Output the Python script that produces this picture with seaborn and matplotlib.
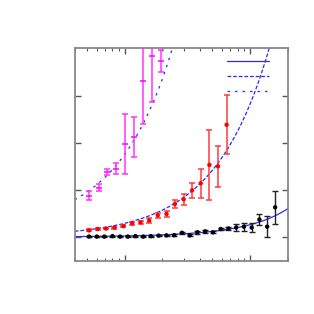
import numpy as np
import pandas as pd
import matplotlib
matplotlib.use('Agg')
import matplotlib.pyplot as plt
import seaborn as sns

# black series
black_x = [0.52, 0.60, 0.69, 0.80, 0.92, 1.06, 1.22, 1.41, 1.62, 1.87, 2.16, 2.49,
           2.87, 3.31, 3.81, 4.40, 5.07, 5.85, 6.74, 7.77, 8.96, 10.33, 11.91, 13.73, 15.90]
black_y = [1.01, 1.01, 1.01, 1.02, 1.01, 1.01, 1.02, 1.01, 1.02, 1.03, 1.035, 1.04,
           1.09, 1.035, 1.10, 1.12, 1.10, 1.17, 1.18, 1.20, 1.22, 1.20, 1.37, 1.22, 1.63]
black_err = [0.01, 0.01, 0.01, 0.01, 0.01, 0.01, 0.01, 0.01, 0.012, 0.012, 0.015, 0.015,
             0.02, 0.02, 0.03, 0.03, 0.025, 0.03, 0.03, 0.08, 0.085, 0.10, 0.12, 0.22, 0.35]

# red series
red_x = [0.52, 0.61, 0.71, 0.83, 0.98, 1.15, 1.34, 1.57, 1.84, 2.16, 2.52, 2.96,
         3.46, 4.05, 4.75, 5.56, 6.52]
red_y = [1.14, 1.17, 1.18, 1.20, 1.23, 1.29, 1.31, 1.35, 1.46, 1.49, 1.70, 1.80,
         1.99, 2.14, 2.53, 2.50, 3.38]
red_err = [0.02, 0.02, 0.02, 0.02, 0.02, 0.025, 0.025, 0.045, 0.05, 0.06, 0.08, 0.12,
           0.165, 0.31, 0.74, 0.43, 0.63]

# magenta series
mag_x = [0.523, 0.621, 0.724, 0.849, 1.00, 1.18, 1.39, 1.65, 1.95]
mag_y = [1.88, 2.05, 2.37, 2.45, 2.97, 3.12, 4.31, 4.84, 4.73]
mag_err = [0.10, 0.07, 0.065, 0.12, 0.64, 0.43, 0.92, 0.97, 0.24]

# fit curves: a + b*x + c*x^2
fit_solid = (1.0, 0.022, 0.0004)
fit_dashed = (1.01, 0.28, 0.0)
fit_dotted = (1.15, 1.6, 0.0)

sns.set_style('ticks')
fig = plt.figure(figsize=(3.14, 3.14), dpi=100)
ax = fig.add_axes([0.238, 0.170, 0.678, 0.676])

xs = np.geomspace(0.4, 20, 400)
curves = []
for name, p in [('solid', fit_solid), ('dashed', fit_dashed), ('dotted', fit_dotted)]:
    curves.append(pd.DataFrame({'x': xs, 'y': p[0] + p[1] * xs + p[2] * xs ** 2, 'fit': name}))
curves = pd.concat(curves)

blue = '#2a2aff'
lines = {}
for name, ls in [('solid', '-'), ('dashed', (0, (3, 1.5))), ('dotted', (0, (2, 4)))]:
    sns.lineplot(data=curves[curves.fit == name], x='x', y='y', ax=ax, color=blue,
                 lw=0.9, linestyle=ls, legend=False, zorder=1)
    lines[name] = ax.lines[-1]

ax.errorbar(black_x, black_y, yerr=black_err, fmt='none', ecolor='#222222',
            elinewidth=1.0, capsize=2.5, capthick=1.0, zorder=3)
ax.errorbar(red_x, red_y, yerr=red_err, fmt='none', ecolor='#ff3b3b',
            elinewidth=1.1, capsize=2.5, capthick=1.1, zorder=3)
ax.errorbar(mag_x, mag_y, yerr=mag_err, fmt='none', ecolor='#ff33ff',
            elinewidth=1.1, capsize=2.5, capthick=1.1, zorder=3)

sns.scatterplot(x=black_x, y=black_y, ax=ax, color='black', s=10, marker='o',
                edgecolor='none', zorder=4)
sns.scatterplot(x=red_x, y=red_y, ax=ax, color='#ff0000', s=10, marker='o',
                edgecolor='none', zorder=4)
ax.plot(mag_x, mag_y, ls='none', marker='_', ms=4, mew=1.1, color='#ff00ff', zorder=4)

ax.set_xscale('log')
ax.set_xlim(0.4, 20)
ax.set_ylim(0.5, 5.0)
ax.set_yticks([1, 2, 3, 4])
ax.set_xlabel('')
ax.set_ylabel('')
ax.tick_params(which='both', direction='in', top=True, right=True,
               labelbottom=False, labelleft=False, color='#555555')
ax.tick_params(which='major', length=4, width=1)
ax.tick_params(which='minor', length=2.5, width=0.8)
ax.yaxis.set_minor_locator(matplotlib.ticker.NullLocator())
for s in ax.spines.values():
    s.set_color('#888888')
    s.set_linewidth(1.3)

ax.legend([lines['solid'], lines['dashed'], lines['dotted']], ['', '', ''],
          loc='upper right', frameon=False, fontsize=8, handlelength=3.8,
          handletextpad=0.5, labelspacing=0.45, borderaxespad=0.0,
          borderpad=0.4, bbox_to_anchor=(0.96, 0.98))

fig.savefig('out.png', dpi=100)
